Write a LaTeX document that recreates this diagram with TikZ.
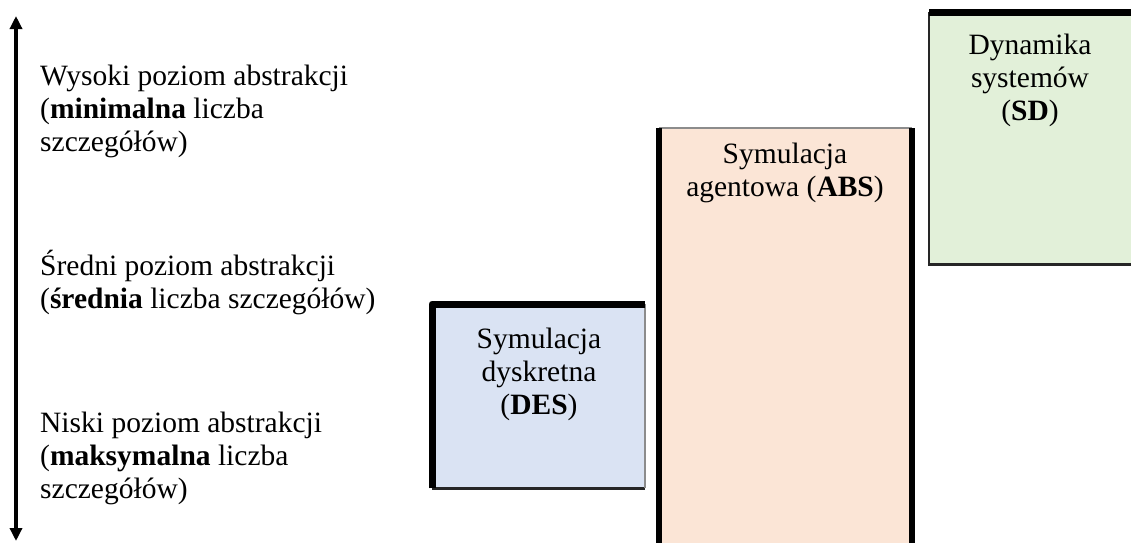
\documentclass[tikz,border=0pt]{standalone}
\usepackage{fontspec}
\setmainfont{Liberation Serif}
\usetikzlibrary{arrows.meta}
\definecolor{desfill}{HTML}{DAE3F3}
\definecolor{absfill}{HTML}{FBE5D6}
\definecolor{sdfill}{HTML}{E2F0D9}
\tikzset{
  txt/.style={font=\fontsize{29.5}{33}\selectfont, inner sep=0pt},
  lbl/.style={txt, align=left, anchor=west},
  boxtxt/.style={txt, align=center},
  boxfill/.style={draw=none, inner sep=0pt, anchor=north west},
  bthick/.style={line width=7pt, black, line join=round},
  bdark/.style={line width=2.5pt, black!85},
  bgray/.style={line width=2pt, black!45},
  axis/.style={line width=4pt, black, {Triangle[width=12pt,length=13pt]}-{Triangle[width=12pt,length=13pt]}}
}
\begin{document}
\begin{tikzpicture}[x=1pt,y=-1pt]
\useasboundingbox (0,0) rectangle (1131,542);
% axis
\coordinate (atop) at (16,16);
\coordinate (abot) at (16,541);
\draw[axis] (abot) -- (atop);
% left labels
\node[lbl] (hi) at (40,111) {Wysoki poziom abstrakcji\\(\textbf{minimalna} liczba\\szczegółów)};
\node[lbl] (mid) at (40,283) {Średni poziom abstrakcji\\(\textbf{średnia} liczba szczegółów)};
\node[lbl] (lo) at (40,458) {Niski poziom abstrakcji\\(\textbf{maksymalna} liczba\\szczegółów)};
% boxes
\node[boxfill, fill=desfill, minimum width=213pt, minimum height=184pt] (des) at (432,304) {};
\node[boxfill, fill=absfill, minimum width=253pt, minimum height=420pt] (abs) at (659,128) {};
\node[boxfill, fill=sdfill, minimum width=205pt, minimum height=252pt] (sd) at (929,12) {};
% DES borders
\draw[bdark] (des.south west) -- (des.south east);
\draw[bgray] (des.south east) -- (des.north east);
\draw[bthick] (des.south west) -- (des.north west) -- (des.north east);
% ABS borders
\draw[bgray] (abs.north west) -- (abs.north east);
\draw[bthick, line width=6pt] (abs.north west) -- (abs.south west);
\draw[bthick, line width=6pt] (abs.north east) -- (abs.south east);
% SD borders
\draw[bdark] (sd.north west) -- (sd.south west) -- (sd.south east);
\draw[bthick] (sd.north west) -- (sd.north east);
% box texts
\node[boxtxt] (destext) at (539,374) {Symulacja\\dyskretna\\(\textbf{DES})};
\node[boxtxt] (abstext) at (785,173) {Symulacja\\agentowa (\textbf{ABS})};
\node[boxtxt] (sdtext) at (1030,80) {Dynamika\\systemów\\(\textbf{SD})};
\end{tikzpicture}
\end{document}
